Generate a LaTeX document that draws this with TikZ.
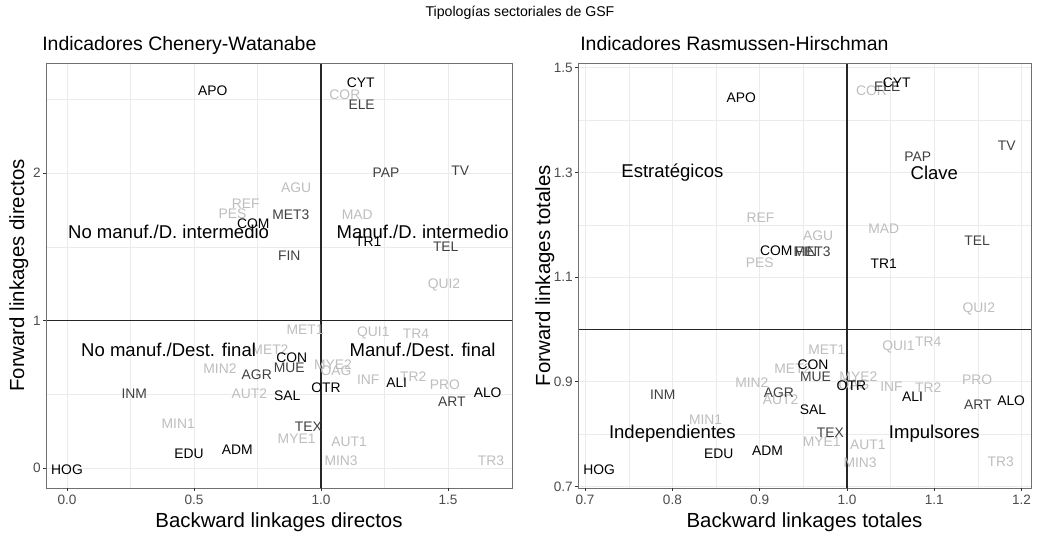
\documentclass[tikz,border=0pt]{standalone}
\usepackage{fontspec}
\setmainfont{Liberation Sans}
\definecolor{cK}{HTML}{000000}
\definecolor{cD}{HTML}{404040}
\definecolor{cL}{HTML}{BEBEBE}
\definecolor{gridc}{HTML}{EBEBEB}
\definecolor{gray20}{HTML}{333333}
\definecolor{gray30}{HTML}{4D4D4D}
\begin{document}
\begin{tikzpicture}[x=0.75pt,y=0.75pt]
\path[use as bounding box, fill=white] (0,0) rectangle (1040,538);
\tikzset{
 lbl/.style={inner sep=0pt, font=\fontsize{10.4}{12}\selectfont},
 region/.style={inner sep=0pt, font=\fontsize{13.9}{16}\selectfont, text=black},
 ptitle/.style={inner sep=0pt, font=\fontsize{14.6}{17}\selectfont, anchor=base west},
 mtitle/.style={inner sep=0pt, font=\fontsize{10.6}{12}\selectfont, anchor=base},
 axtitle/.style={inner sep=0pt, font=\fontsize{15.3}{18}\selectfont},
 ticklbl/.style={inner sep=0pt, font=\fontsize{10.2}{12}\selectfont, text=gray30},
 major/.style={draw=gridc, line width=0.55pt},
 minor/.style={draw=gridc, line width=0.28pt},
 border/.style={draw=gray20!70, line width=0.6pt},
 refline/.style={draw=black!85, line width=0.8pt},
 tickmark/.style={draw=gray20, line width=0.55pt},
}
% overall title
\node[mtitle] (maintitle) at (520,521) {Tipologías sectoriales de GSF};
\node[ptitle] (titleL) at (42,487) {Indicadores Chenery-Watanabe};
\node[ptitle] (titleR) at (580,487) {Indicadores Rasmussen-Hirschman};
% axis titles
\node[axtitle, anchor=base] (xtitleL) at (279,10) {Backward linkages directos};
\node[axtitle, anchor=base] (xtitleR) at (804.5,10) {Backward linkages totales};
\node[axtitle, rotate=90, anchor=base] (ytitleL) at (24,262.5) {Forward linkages directos};
\node[axtitle, rotate=90, anchor=base] (ytitleR) at (550,262.5) {Forward linkages totales};

% ================= LEFT PANEL =================
\begin{scope}[xshift=50.25pt, yshift=52.5pt, x=190.5pt, y=110.625pt]
 \def\xa{-0.0827}\def\xb{1.7520}\def\ya{-0.1356}\def\yb{2.7458}
 \foreach \v in {0.25,0.75,1.25} \draw[minor] (\v,\ya) -- (\v,\yb);
 \foreach \v in {0.5,1.5,2.5} \draw[minor] (\xa,\v) -- (\xb,\v);
 \foreach \v in {0,0.5,1,1.5} \draw[major] (\v,\ya) -- (\v,\yb);
 \foreach \v in {0,1,2} \draw[major] (\xa,\v) -- (\xb,\v);
 \coordinate (Lvb) at (1,\ya); \coordinate (Lvt) at (1,\yb);
 \coordinate (Lhl) at (\xa,1); \coordinate (Lhr) at (\xb,1);
 \draw[refline] (Lvb) -- (Lvt);
 \draw[refline] (Lhl) -- (Lhr);
 \foreach \n/\px/\py in {COR/1.094/2.534, AGU/0.902/1.898, REF/0.704/1.790, PES/0.652/1.722,
   MAD/1.143/1.720, QUI2/1.484/1.241, MET1/0.937/0.936, QUI1/1.206/0.913, TR4/1.374/0.908,
   MET2/0.799/0.800, MIN2/0.602/0.676, MYE2/1.047/0.698, OAG/1.059/0.658, INF/1.186/0.601,
   TR2/1.363/0.619, PRO/1.488/0.567, AUT2/0.718/0.502, MIN1/0.438/0.303, MYE1/0.904/0.195,
   AUT1/1.111/0.178, MIN3/1.079/0.050, TR3/1.669/0.050}
   \node[lbl, text=cL] (L\n) at (\px,\py) {\n};
 \foreach \n/\px/\py in {ELE/1.160/2.461, PAP/1.256/2.002, TV/1.548/2.014, MET3/0.881/1.715,
   TEL/1.491/1.500, FIN/0.875/1.437, MUE/0.875/0.676, AGR/0.747/0.635, INM/0.265/0.502,
   ART/1.515/0.450, TEX/0.950/0.280}
   \node[lbl, text=cD] (L\n) at (\px,\py) {\n};
 \foreach \n/\px/\py in {APO/0.574/2.558, CYT/1.156/2.612, COM/0.733/1.659, TR1/1.186/1.534,
   CON/0.885/0.750, ALI/1.298/0.578, OTR/1.020/0.547, ALO/1.656/0.513, SAL/0.867/0.490,
   ADM/0.670/0.122, EDU/0.480/0.095, HOG/0.000/-0.010}
   \node[lbl, text=cK] (L\n) at (\px,\py) {\n};
 \node[region] (LrNI) at (0.4,1.6) {No manuf./D. intermedio};
 \node[region] (LrMI) at (1.4,1.6) {Manuf./D. intermedio};
 \node[region] (LrNF) at (0.4,0.8) {No manuf./Dest. final};
 \node[region] (LrMF) at (1.4,0.8) {Manuf./Dest. final};
 \draw[border] (\xa,\ya) rectangle (\xb,\yb);
 \foreach \v/\t in {0/0.0,0.5/0.5,1/1.0,1.5/1.5} {
   \draw[tickmark] (\v,\ya) -- ++(0,-2.6pt);
   \node[ticklbl, anchor=north] (Lxt\t) at ([yshift=-5.2pt]\v,\ya) {\t};
 }
 \foreach \v in {0,1,2} {
   \draw[tickmark] (\xa,\v) -- ++(-2.6pt,0);
   \node[ticklbl, anchor=east] (Lyt\v) at ([xshift=-3.8pt]\xa,\v) {\v};
 }
\end{scope}

% ================= RIGHT PANEL =================
\begin{scope}[xshift=-19.5pt, yshift=-236.25pt, x=654.75pt, y=392.625pt]
 \def\xa{0.69187}\def\xb{1.21077}\def\ya{0.69723}\def\yb{1.50907}
 \foreach \v in {0.75,0.85,0.95,1.05,1.15} \draw[minor] (\v,\ya) -- (\v,\yb);
 \foreach \v in {0.8,1.0,1.2,1.4} \draw[minor] (\xa,\v) -- (\xb,\v);
 \foreach \v in {0.7,0.8,0.9,1.0,1.1,1.2} \draw[major] (\v,\ya) -- (\v,\yb);
 \foreach \v in {0.7,0.9,1.1,1.3,1.5} \draw[major] (\xa,\v) -- (\xb,\v);
 \coordinate (Rvb) at (1,\ya); \coordinate (Rvt) at (1,\yb);
 \coordinate (Rhl) at (\xa,1); \coordinate (Rhr) at (\xb,1);
 \draw[refline] (Rvb) -- (Rvt);
 \draw[refline] (Rhl) -- (Rhr);
 \foreach \n/\px/\py in {COR/1.028/1.456, REF/0.901/1.214, MAD/1.042/1.193, AGU/0.967/1.179,
   PES/0.900/1.128, QUI2/1.151/1.040, MET1/0.977/0.962, QUI1/1.059/0.966, TR4/1.093/0.977,
   MET2/0.938/0.926, MYE2/1.013/0.909, OAG/1.008/0.895, MIN2/0.891/0.898, PRO/1.149/0.904,
   INF/1.051/0.891, TR2/1.093/0.889, AUT2/0.924/0.865, MIN1/0.838/0.828, MYE1/0.971/0.785,
   AUT1/1.024/0.779, MIN3/1.015/0.746, TR3/1.176/0.747}
   \node[lbl, text=cL] (R\n) at (\px,\py) {\n};
 \foreach \n/\px/\py in {ELE/1.046/1.464, TV/1.183/1.351, PAP/1.081/1.330, TEL/1.149/1.170,
   FIN/0.953/1.149, MET3/0.960/1.149, MUE/0.964/0.910, AGR/0.922/0.879, INM/0.789/0.875,
   ART/1.150/0.856, TEX/0.981/0.802}
   \node[lbl, text=cD] (R\n) at (\px,\py) {\n};
 \foreach \n/\px/\py in {APO/0.879/1.442, CYT/1.057/1.471, COM/0.919/1.150, TR1/1.042/1.126,
   CON/0.961/0.932, OTR/1.005/0.893, ALI/1.075/0.872, ALO/1.188/0.864, SAL/0.961/0.846,
   ADM/0.909/0.768, EDU/0.853/0.762, HOG/0.716/0.733}
   \node[lbl, text=cK] (R\n) at (\px,\py) {\n};
 \node[region] (RrE) at (0.8,1.3) {Estratégicos};
 \node[region] (RrC) at (1.1,1.3) {Clave};
 \node[region] (RrI) at (0.8,0.8) {Independientes};
 \node[region] (RrP) at (1.1,0.8) {Impulsores};
 \draw[border] (\xa,\ya) rectangle (\xb,\yb);
 \foreach \v in {0.7,0.8,0.9,1.0,1.1,1.2} {
   \draw[tickmark] (\v,\ya) -- ++(0,-2.6pt);
   \node[ticklbl, anchor=north] (Rxt\v) at ([yshift=-5.2pt]\v,\ya) {\v};
 }
 \foreach \v in {0.7,0.9,1.1,1.3,1.5} {
   \draw[tickmark] (\xa,\v) -- ++(-2.6pt,0);
   \node[ticklbl, anchor=east] (Ryt\v) at ([xshift=-3.8pt]\xa,\v) {\v};
 }
\end{scope}
\end{tikzpicture}
\end{document}
